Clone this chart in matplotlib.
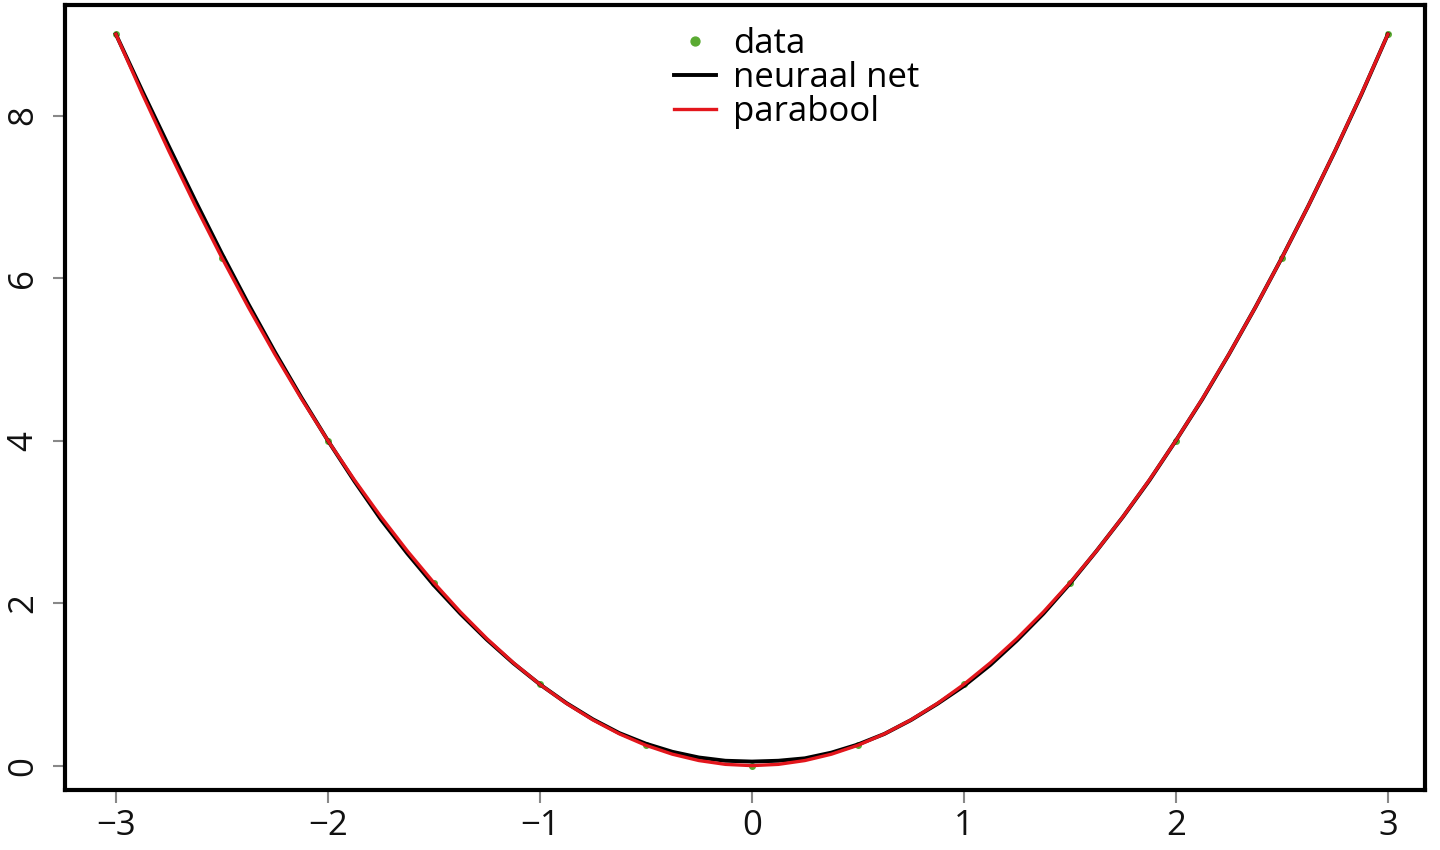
import numpy as np
import matplotlib.pyplot as plt

plt.rcParams['font.family'] = ['Open Sans', 'DejaVu Sans']

# data points
data_x = [-3, -2.5, -2, -1.5, -1, -0.5, 0, 0.5, 1, 1.5, 2, 2.5, 3]
data_y = [9, 6.25, 4, 2.25, 1, 0.25, 0, 0.25, 1, 2.25, 4, 6.25, 9]

# curves (step 0.125)
curve_x = [-3, -2.875, -2.75, -2.625, -2.5, -2.375, -2.25, -2.125,
           -2, -1.875, -1.75, -1.625, -1.5, -1.375, -1.25, -1.125,
           -1, -0.875, -0.75, -0.625, -0.5, -0.375, -0.25, -0.125,
           0, 0.125, 0.25, 0.375, 0.5, 0.625, 0.75, 0.875,
           1, 1.125, 1.25, 1.375, 1.5, 1.625, 1.75, 1.875,
           2, 2.125, 2.25, 2.375, 2.5, 2.625, 2.75, 2.875, 3]
net_y = [9.0, 8.30, 7.62, 6.95, 6.30, 5.68, 5.09, 4.53,
         4.00, 3.50, 3.03, 2.61, 2.22, 1.87, 1.55, 1.26,
         1.00, 0.77, 0.57, 0.40, 0.27, 0.17, 0.10, 0.06,
         0.05, 0.06, 0.09, 0.16, 0.26, 0.39, 0.56, 0.76,
         0.98, 1.24, 1.54, 1.87, 2.24, 2.64, 3.06, 3.51,
         4.00, 4.51, 5.06, 5.64, 6.25, 6.89, 7.56, 8.26, 9.0]
parabola_y = [9.0, 8.265625, 7.5625, 6.890625, 6.25, 5.640625, 5.0625, 4.515625,
              4.0, 3.515625, 3.0625, 2.640625, 2.25, 1.890625, 1.5625, 1.265625,
              1.0, 0.765625, 0.5625, 0.390625, 0.25, 0.140625, 0.0625, 0.015625,
              0.0, 0.015625, 0.0625, 0.140625, 0.25, 0.390625, 0.5625, 0.765625,
              1.0, 1.265625, 1.5625, 1.890625, 2.25, 2.640625, 3.0625, 3.515625,
              4.0, 4.515625, 5.0625, 5.640625, 6.25, 6.890625, 7.5625, 8.265625, 9.0]

fig = plt.figure(figsize=(14.4, 8.5), dpi=100)
ax = fig.add_axes([65 / 1440, 60 / 850, 1360 / 1440, 785 / 850])

ax.plot(data_x, data_y, 'o', color='#5aaa32', markersize=4, label='data', zorder=2)
ax.plot(curve_x, net_y, color='black', lw=2.8, label='neuraal net', zorder=3)
ax.plot(curve_x, parabola_y, color='#e3161c', lw=2.4, label='parabool', zorder=4)

ax.set_xlim(-3.24, 3.175)
ax.set_ylim(-0.3, 9.36)
ax.set_xticks([-3, -2, -1, 0, 1, 2, 3])
ax.set_xticklabels(['\u22123', '\u22122', '\u22121', '0', '1', '2', '3'])
ax.set_yticks([0, 2, 4, 6, 8])
ax.tick_params(axis='both', colors='#888888', labelcolor='#111111', width=1.5,
               length=9, labelsize=25)
ax.tick_params(axis='x', pad=5)
ax.tick_params(axis='y', pad=9)
for lab in ax.get_yticklabels():
    lab.set_rotation(90)
    lab.set_va('center')
for s in ax.spines.values():
    s.set_linewidth(3)
    s.set_color('black')

leg = ax.legend(loc='upper center', bbox_to_anchor=(0.538, 1.003), frameon=False,
                fontsize=25, labelspacing=0.0, handlelength=1.2, handletextpad=0.5,
                markerscale=1.6, borderpad=0.2)

fig.savefig('out.png', dpi=100)
